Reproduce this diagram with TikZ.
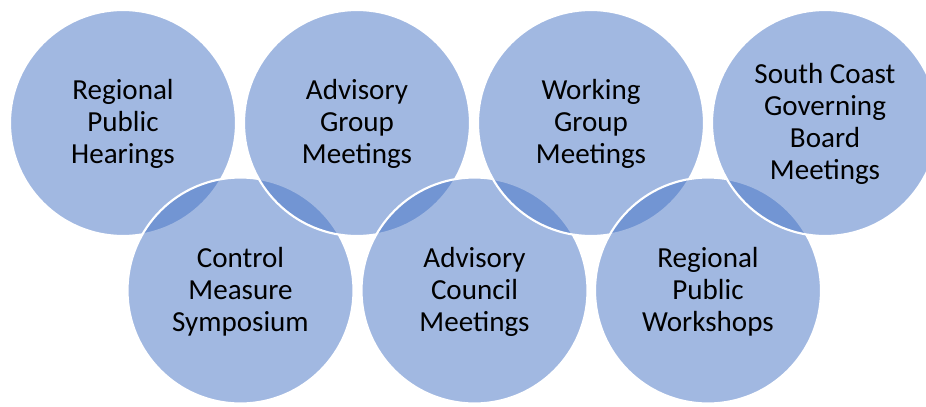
\documentclass[tikz,border=0pt]{standalone}
\usepackage{fontspec}
\setmainfont{Carlito}
\definecolor{ringblue}{HTML}{4472C4}
\begin{document}
\begin{tikzpicture}[x=0.75pt,y=-0.75pt,
  ring/.style={circle,minimum size=169.5pt,inner sep=0pt,
    fill=ringblue,fill opacity=0.5,draw=white,draw opacity=1,line width=1.6pt},
  label/.style={align=center,text=black,text opacity=1,
    font=\fontsize{21.8}{24}\selectfont}]
  \useasboundingbox (0,0) rectangle (926,407);
  \clip (0,0) rectangle (926,407);
  % circles, stacked left to right, alternating rows
  \node[ring] (c1) at (123,123) {};
  \node[ring] (c5) at (240.5,290.5) {};
  \node[ring] (c2) at (357,123) {};
  \node[ring] (c6) at (474.5,290.5) {};
  \node[ring] (c3) at (591,123) {};
  \node[ring] (c7) at (708,290.5) {};
  \node[ring] (c4) at (825,123) {};
  % captions
  \node[label] (t1) at ([yshift=-1pt]c1.center) {Regional\\Public\\Hearings};
  \node[label] (t2) at ([yshift=-1pt]c2.center) {Advisory\\Group\\Meetings};
  \node[label] (t3) at ([yshift=-1pt]c3.center) {Working\\Group\\Meetings};
  \node[label] (t4) at ([yshift=-1pt]c4.center) {South Coast\\Governing\\Board\\Meetings};
  \node[label] (t5) at ([yshift=-1pt]c5.center) {Control\\Measure\\Symposium};
  \node[label] (t6) at ([yshift=-1pt]c6.center) {Advisory\\Council\\Meetings};
  \node[label] (t7) at ([yshift=-1pt]c7.center) {Regional\\Public\\Workshops};
\end{tikzpicture}
\end{document}
